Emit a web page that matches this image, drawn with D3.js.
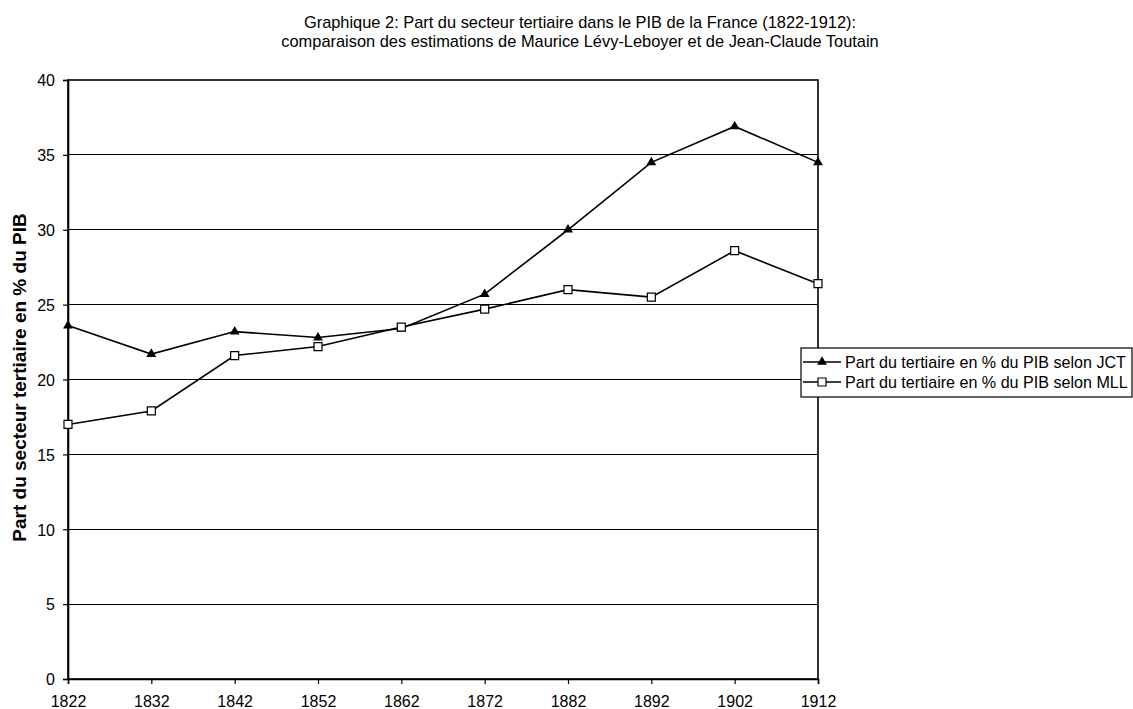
<!DOCTYPE html>
<html><head><meta charset="utf-8">
<script src="https://cdn.jsdelivr.net/npm/d3@7"></script>
<style>body{margin:0;background:#fff;} svg{display:block;font-family:"Liberation Sans",Arial,sans-serif;}</style>
</head><body><svg id="c" width="1133" height="709"></svg>
<script>
const years = [1822,1832,1842,1852,1862,1872,1882,1892,1902,1912];
const jct = [23.6,21.7,23.2,22.8,23.4,25.7,30.0,34.5,36.9,34.5];
const mll = [17.0,17.9,21.6,22.2,23.5,24.7,26.0,25.5,28.6,26.4];
const yTicks = [0,5,10,15,20,25,30,35,40];
const titleLines = ["Graphique 2: Part du secteur tertiaire dans le PIB de la France (1822-1912):",
  "comparaison des estimations de Maurice Lévy-Leboyer et de Jean-Claude Toutain"];
const yTitle = "Part du secteur tertiaire en % du PIB";
const legendLabels = ["Part du tertiaire en % du PIB selon JCT","Part du tertiaire en % du PIB selon MLL"];

const svg = d3.select("#c");
const L=68,R=818,T=80,B=679;
const x = d3.scalePoint().domain(years).range([L,R]);
const y = d3.scaleLinear().domain([0,40]).range([B,T]);

// title
svg.append("g").selectAll("text").data(titleLines).join("text")
  .attr("x",580).attr("y",(d,i)=>28+i*19).attr("text-anchor","middle")
  .attr("font-size",16.4).text(d=>d);

// grid
svg.append("g").selectAll("line").data(yTicks.filter(v=>v>0&&v<40)).join("line")
  .attr("x1",L).attr("x2",R).attr("y1",d=>y(d)).attr("y2",d=>y(d))
  .attr("stroke","#000").attr("stroke-width",1).attr("shape-rendering","crispEdges");

// frame
svg.append("rect").attr("x",L).attr("y",T).attr("width",R-L).attr("height",B-T)
  .attr("fill","none").attr("stroke","#000").attr("stroke-width",1.6);

// axes
const yAxis = svg.append("g").attr("transform",`translate(${L},0)`)
  .call(d3.axisLeft(y).tickValues(yTicks).tickSize(5).tickPadding(8));
const xAxis = svg.append("g").attr("transform",`translate(0,${B})`)
  .call(d3.axisBottom(x).tickSize(5).tickPadding(12).tickFormat(d3.format("d")));
[yAxis,xAxis].forEach(g=>{
  g.select(".domain").attr("stroke","#000").attr("stroke-width",1.6);
  g.selectAll(".tick line").attr("stroke","#000").attr("stroke-width",1.2);
  g.selectAll("text").attr("font-size",16).attr("fill","#000").attr("font-family","Liberation Sans, Arial, sans-serif");
});
yAxis.selectAll("text").attr("dy","0.36em");

// y title
svg.append("text").attr("transform",`translate(26,${(T+B)/2 - 2}) rotate(-90)`)
  .attr("text-anchor","middle").attr("font-size",19).attr("font-weight","bold").text(yTitle);

const line = d3.line().x((d,i)=>x(years[i])).y(d=>y(d));
const tri = d3.symbol().type(d3.symbolTriangle).size(42);
const sq = d3.symbol().type(d3.symbolSquare).size(64);

svg.append("path").datum(jct).attr("d",line).attr("fill","none").attr("stroke","#000").attr("stroke-width",1.6);
svg.append("path").datum(mll).attr("d",line).attr("fill","none").attr("stroke","#000").attr("stroke-width",1.6);
svg.append("g").selectAll("path").data(jct).join("path")
  .attr("d",tri).attr("transform",(d,i)=>`translate(${x(years[i])},${y(d)})`).attr("fill","#000");
svg.append("g").selectAll("path").data(mll).join("path")
  .attr("d",sq).attr("transform",(d,i)=>`translate(${x(years[i])},${y(d)})`)
  .attr("fill","#fff").attr("stroke","#000").attr("stroke-width",1.2);

// legend
const lg = svg.append("g");
lg.append("rect").attr("x",801).attr("y",348).attr("width",331).attr("height",49)
  .attr("fill","#fff").attr("stroke","#000").attr("stroke-width",1.2);
legendLabels.forEach((t,i)=>{
  const yy = 362 + i*20;
  lg.append("line").attr("x1",803).attr("x2",841).attr("y1",yy).attr("y2",yy).attr("stroke","#000").attr("stroke-width",1.6);
  lg.append("path").attr("d", i===0?tri:sq).attr("transform",`translate(822,${yy})`)
    .attr("fill", i===0?"#000":"#fff").attr("stroke", i===0?"none":"#000").attr("stroke-width",1.2);
  lg.append("text").attr("x",845).attr("y",yy+5.5).attr("font-size",16.1).text(t);
});
</script></body></html>
